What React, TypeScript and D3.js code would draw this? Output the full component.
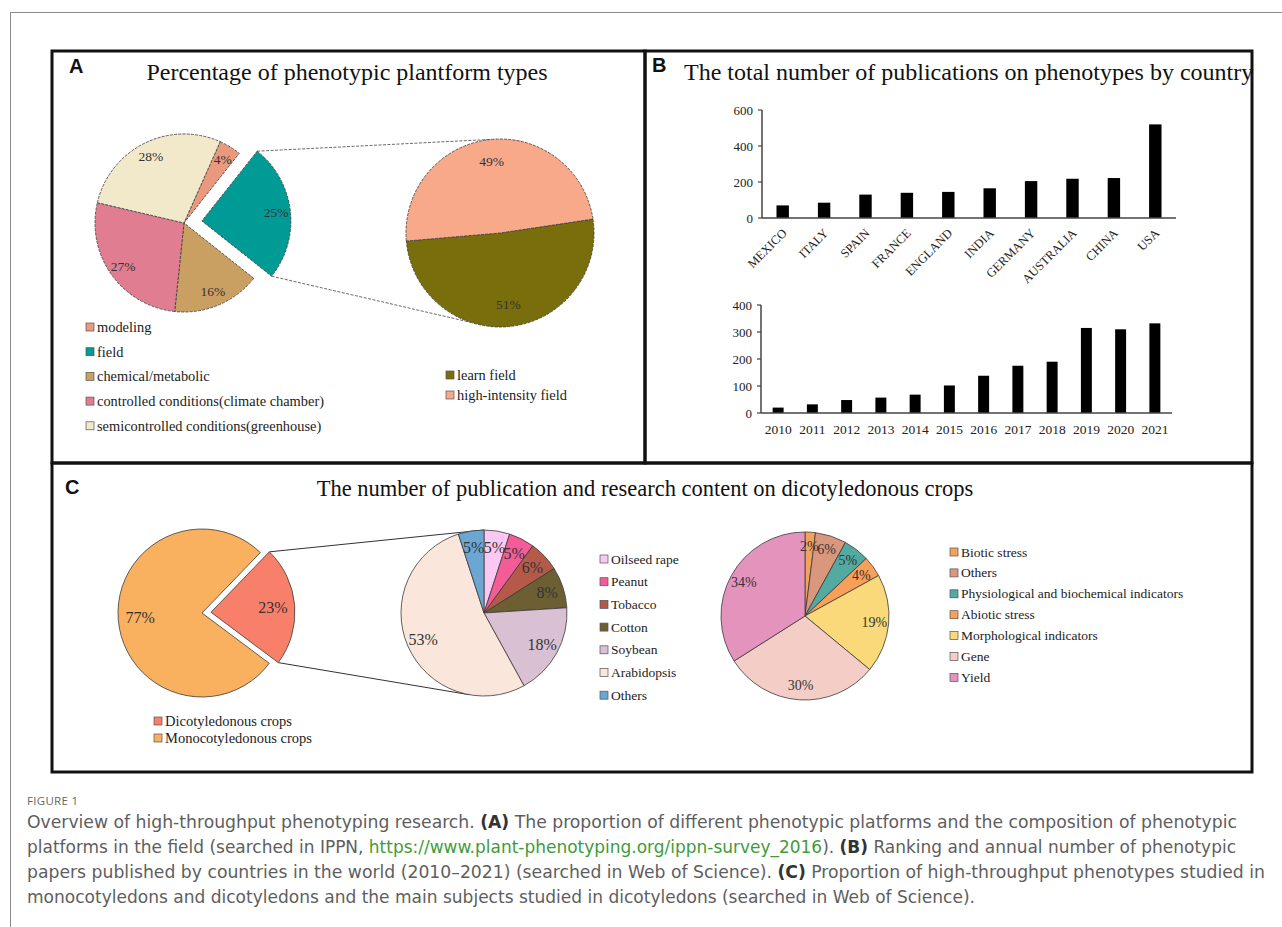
import * as d3 from "d3";

// Panel A
const platformTypes = [
  "modeling",
  "field",
  "chemical/metabolic",
  "controlled conditions(climate chamber)",
  "semicontrolled conditions(greenhouse)",
];
const platformShares = [4, 25, 16, 27, 28];
const platformColors = ["#E99A7E", "#009B95", "#C9A062", "#E07D91", "#F2E8CA"];

const fieldTypes = ["learn field", "high-intensity field"];
const fieldShares = [51, 49];
const fieldColors = ["#786E0B", "#F7A98A"];

// Panel B
const countries = ["MEXICO", "ITALY", "SPAIN", "FRANCE", "ENGLAND", "INDIA", "GERMANY", "AUSTRALIA", "CHINA", "USA"];
const countryCounts = [70, 85, 130, 140, 145, 165, 205, 218, 222, 520];
const countryTicks = [0, 200, 400, 600];

const years = ["2010", "2011", "2012", "2013", "2014", "2015", "2016", "2017", "2018", "2019", "2020", "2021"];
const yearCounts = [20, 32, 48, 57, 68, 102, 138, 175, 190, 315, 310, 332];
const yearTicks = [0, 100, 200, 300, 400];

// Panel C
const cropGroups = ["Dicotyledonous crops", "Monocotyledonous crops"];
const cropShares = [23, 77];
const cropColors = ["#F8806A", "#F9B160"];

const dicotCrops = ["Oilseed rape", "Peanut", "Tobacco", "Cotton", "Soybean", "Arabidopsis", "Others"];
const dicotShares = [5, 5, 6, 8, 18, 53, 5];
const dicotColors = ["#FBC8F4", "#F45C97", "#B55A48", "#6C5F33", "#D9C0D2", "#FAE6DA", "#6CA6D2"];

const contents = [
  "Biotic stress",
  "Others",
  "Physiological and biochemical indicators",
  "Abiotic stress",
  "Morphological indicators",
  "Gene",
  "Yield",
];
const contentShares = [2, 6, 5, 4, 19, 30, 34];
const contentColors = ["#F2A25C", "#D9977E", "#52AAA0", "#F8A058", "#FAD97A", "#F4CEC6", "#E493BD"];

const SERIF = "'Liberation Serif', 'Times New Roman', serif";
const SANS = "'Liberation Sans', Arial, sans-serif";

const rad = (d: number) => (d * Math.PI) / 180;
const polar = (cx: number, cy: number, r: number, a: number): [number, number] => [
  cx + r * Math.sin(a),
  cy - r * Math.cos(a),
];

function pieArcs(values: number[], startDeg: number) {
  return d3
    .pie<number>()
    .sort(null)
    .value((d) => d)
    .startAngle(rad(startDeg))
    .endAngle(rad(startDeg) + 2 * Math.PI)(values);
}

interface PieProps {
  values: number[];
  colors: string[];
  cx: number;
  cy: number;
  r: number;
  start: number;
  explode?: number;
  offset?: number;
  labelR: number;
  fontSize: number;
  dash?: string;
}

function Pie({ values, colors, cx, cy, r, start, explode = -1, offset = 0, labelR, fontSize, dash }: PieProps) {
  const arcs = pieArcs(values, start);
  const arc = d3.arc<d3.PieArcDatum<number>>().innerRadius(0).outerRadius(r);
  const shift = (i: number, mid: number) => {
    const o = i === explode ? offset : 0;
    return [o * Math.sin(mid), -o * Math.cos(mid)];
  };
  return (
    <g>
      {arcs.map((a, i) => {
        const mid = (a.startAngle + a.endAngle) / 2;
        const [dx, dy] = shift(i, mid);
        return (
          <path
            key={i}
            transform={`translate(${cx + dx},${cy + dy})`}
            d={arc(a) ?? ""}
            fill={colors[i]}
            stroke="#3a3a3a"
            strokeWidth={0.8}
            strokeDasharray={dash}
          />
        );
      })}
      {arcs.map((a, i) => {
        const mid = (a.startAngle + a.endAngle) / 2;
        const [dx, dy] = shift(i, mid);
        const [lx, ly] = polar(cx + dx, cy + dy, r * labelR, mid);
        return (
          <text
            key={i}
            x={lx}
            y={ly}
            textAnchor="middle"
            dominantBaseline="central"
            fontFamily={SERIF}
            fontSize={fontSize}
            fill="#333"
          >
            {values[i]}%
          </text>
        );
      })}
    </g>
  );
}

interface LegendProps {
  items: string[];
  colors: string[];
  x: number;
  y: number;
  step: number;
  fontSize: number;
}

function Legend({ items, colors, x, y, step, fontSize }: LegendProps) {
  return (
    <g fontFamily={SERIF} fontSize={fontSize} fill="#222">
      {items.map((t, i) => (
        <g key={t + i} transform={`translate(${x},${y + i * step})`}>
          <rect x={0} y={-4} width={8} height={8} fill={colors[i]} stroke="#555" strokeWidth={0.7} />
          <text x={11} y={0} dominantBaseline="central">
            {t}
          </text>
        </g>
      ))}
    </g>
  );
}

interface BarsProps {
  labels: string[];
  values: number[];
  ticks: number[];
  x0: number;
  x1: number;
  y0: number;
  y1: number;
  padding: number;
  rotate: boolean;
}

function Bars({ labels, values, ticks, x0, x1, y0, y1, padding, rotate }: BarsProps) {
  const x = d3.scaleBand<string>().domain(labels).range([x0, x1]).paddingInner(padding).paddingOuter(padding / 2);
  const y = d3
    .scaleLinear()
    .domain([0, ticks[ticks.length - 1]])
    .range([y0, y1]);
  return (
    <g fontFamily={SERIF} fill="#222">
      {labels.map((l, i) => (
        <rect key={l} x={x(l)} y={y(values[i])} width={x.bandwidth()} height={y0 - y(values[i])} fill="#000" />
      ))}
      <line x1={x0} x2={x0} y1={y1} y2={y0} stroke="#444" strokeWidth={1.5} />
      <line x1={x0} x2={x1} y1={y0} y2={y0} stroke="#444" strokeWidth={1.5} />
      {ticks.map((t) => (
        <g key={t}>
          <line x1={x0 - 4} x2={x0} y1={y(t)} y2={y(t)} stroke="#444" strokeWidth={1.2} />
          <text x={x0 - 9} y={y(t)} textAnchor="end" dominantBaseline="central" fontSize={13}>
            {t}
          </text>
        </g>
      ))}
      {labels.map((l) => {
        const cx = (x(l) ?? 0) + x.bandwidth() / 2;
        return rotate ? (
          <text
            key={l}
            transform={`translate(${cx + 2},${y0 + 13}) rotate(-45)`}
            textAnchor="end"
            dominantBaseline="central"
            fontSize={12.5}
          >
            {l}
          </text>
        ) : (
          <text key={l} x={cx} y={y0 + 16} textAnchor="middle" dominantBaseline="central" fontSize={13.5}>
            {l}
          </text>
        );
      })}
    </g>
  );
}

function App() {
  // panel A geometry
  const aL = { cx: 184, cy: 223, r: 89, start: 24, offset: 18 };
  const aR = { cx: 500, cy: 233, r: 94, start: 81.5 };
  const aArcs = pieArcs(platformShares, aL.start);
  const fa = aArcs[1];
  const faMid = (fa.startAngle + fa.endAngle) / 2;
  const fcx = aL.cx + aL.offset * Math.sin(faMid);
  const fcy = aL.cy - aL.offset * Math.cos(faMid);
  const aTop0 = polar(fcx, fcy, aL.r, fa.startAngle);
  const aBot0 = polar(fcx, fcy, aL.r, fa.endAngle);
  const aTop1 = polar(aR.cx, aR.cy, aR.r, rad(-5));
  const aBot1 = polar(aR.cx, aR.cy, aR.r, rad(198));

  // panel C geometry
  const cL = { cx: 202, cy: 613, r: 84, start: 44, offset: 9 };
  const cM = { cx: 484, cy: 613, r: 83 };
  const cR = { cx: 805, cy: 616, r: 84 };
  const cArcs = pieArcs(cropShares, cL.start);
  const da = cArcs[0];
  const daMid = (da.startAngle + da.endAngle) / 2;
  const dcx = cL.cx + cL.offset * Math.sin(daMid);
  const dcy = cL.cy - cL.offset * Math.cos(daMid);
  const cTop0 = polar(dcx, dcy, cL.r, da.startAngle);
  const cBot0 = polar(dcx, dcy, cL.r, da.endAngle);
  const cTop1 = polar(cM.cx, cM.cy, cM.r, rad(0));
  const cBot1 = polar(cM.cx, cM.cy, cM.r, rad(190));

  const captionStyle = { fontFamily: "'Liberation Sans Narrow', 'DejaVu Sans Condensed', 'Open Sans', sans-serif", fontSize: 17, fill: "#5e5e5e" };
  const bold = { fontWeight: 700, fill: "#333" };

  return (
    <svg width={1282} height={927} style={{ position: "absolute", left: 0, top: 0, background: "#fff" }}>
      <rect width={1282} height={927} fill="#fff" />
      {/* page rule */}
      <line x1={10.5} x2={10.5} y1={12} y2={927} stroke="#8a8a8a" strokeWidth={1} />
      <line x1={10} x2={1282} y1={12.5} y2={12.5} stroke="#8a8a8a" strokeWidth={1} />

      {/* panel frames */}
      <g fill="none" stroke="#111" strokeWidth={3}>
        <rect x={52} y={51} width={593} height={412} />
        <rect x={645} y={51} width={607} height={412} />
        <rect x={52} y={463} width={1200} height={309} />
      </g>

      {/* panel letters */}
      <g fontFamily={SANS} fontWeight={700} fontSize={20} fill="#111">
        <text x={69} y={73}>A</text>
        <text x={652} y={72}>B</text>
        <text x={65} y={494}>C</text>
      </g>

      {/* titles */}
      <g fontFamily={SERIF} fontSize={24} fill="#111">
        <text x={347} y={80} textAnchor="middle">Percentage of phenotypic plantform types</text>
        <text x={684} y={80}>The total number of publications on phenotypes by country</text>
        <text x={645} y={496} textAnchor="middle" fontSize={22.5}>The number of publication and research content on dicotyledonous crops</text>
      </g>

      {/* Panel A */}
      <g stroke="#444" strokeWidth={0.8} strokeDasharray="3,1.5">
        <line x1={aTop0[0]} y1={aTop0[1]} x2={aTop1[0]} y2={aTop1[1]} />
        <line x1={aBot0[0]} y1={aBot0[1]} x2={aBot1[0]} y2={aBot1[1]} />
      </g>
      <Pie
        values={platformShares}
        colors={platformColors}
        cx={aL.cx}
        cy={aL.cy}
        r={aL.r}
        start={aL.start}
        explode={1}
        offset={aL.offset}
        labelR={0.84}
        fontSize={13.5}
        dash="3,1.2"
      />
      <Pie
        values={fieldShares}
        colors={fieldColors}
        cx={aR.cx}
        cy={aR.cy}
        r={aR.r}
        start={aR.start}
        labelR={0.77}
        fontSize={13.5}
        dash="3,1.2"
      />
      <Legend items={platformTypes} colors={platformColors} x={86} y={327} step={24.7} fontSize={14.4} />
      <Legend items={fieldTypes} colors={fieldColors} x={446} y={375} step={20} fontSize={14.4} />

      {/* Panel B */}
      <Bars labels={countries} values={countryCounts} ticks={countryTicks} x0={762} x1={1176} y0={218} y1={110} padding={0.7} rotate />
      <Bars labels={years} values={yearCounts} ticks={yearTicks} x0={761} x1={1172} y0={413} y1={305} padding={0.68} rotate={false} />

      {/* Panel C */}
      <g stroke="#333" strokeWidth={1}>
        <line x1={cTop0[0]} y1={cTop0[1]} x2={cTop1[0]} y2={cTop1[1]} />
        <line x1={cBot0[0]} y1={cBot0[1]} x2={cBot1[0]} y2={cBot1[1]} />
      </g>
      <Pie
        values={cropShares}
        colors={cropColors}
        cx={cL.cx}
        cy={cL.cy}
        r={cL.r}
        start={cL.start}
        explode={0}
        offset={cL.offset}
        labelR={0.74}
        fontSize={16}
      />
      <Pie values={dicotShares} colors={dicotColors} cx={cM.cx} cy={cM.cy} r={cM.r} start={0} labelR={0.8} fontSize={16} />
      <Pie values={contentShares} colors={contentColors} cx={cR.cx} cy={cR.cy} r={cR.r} start={0} labelR={0.83} fontSize={14} />
      <Legend items={cropGroups} colors={cropColors} x={154} y={721} step={17} fontSize={14.5} />
      <Legend items={dicotCrops} colors={dicotColors} x={600} y={559} step={22.7} fontSize={13.5} />
      <Legend items={contents} colors={contentColors} x={950} y={552} step={20.9} fontSize={13.5} />

      {/* caption */}
      <text x={27} y={805} fontFamily="'Open Sans', sans-serif" fontSize={11.5} fill="#666" letterSpacing={0.3}>
        FIGURE 1
      </text>
      <g style={captionStyle}>
        <text x={27} y={828} textLength={1210} lengthAdjust="spacingAndGlyphs">
          Overview of high-throughput phenotyping research. <tspan style={bold}>(A)</tspan> The proportion of different phenotypic platforms and the composition of phenotypic
        </text>
        <text x={27} y={853} textLength={1209} lengthAdjust="spacingAndGlyphs">
          platforms in the field (searched in IPPN, <tspan fill="#3f9b3a">https://www.plant-phenotyping.org/ippn-survey_2016</tspan>). <tspan style={bold}>(B)</tspan> Ranking and annual number of phenotypic
        </text>
        <text x={27} y={878} textLength={1238} lengthAdjust="spacingAndGlyphs">
          papers published by countries in the world (2010–2021) (searched in Web of Science). <tspan style={bold}>(C)</tspan> Proportion of high-throughput phenotypes studied in
        </text>
        <text x={27} y={903} textLength={948} lengthAdjust="spacingAndGlyphs">
          monocotyledons and dicotyledons and the main subjects studied in dicotyledons (searched in Web of Science).
        </text>
      </g>
    </svg>
  );
}

export default App;
